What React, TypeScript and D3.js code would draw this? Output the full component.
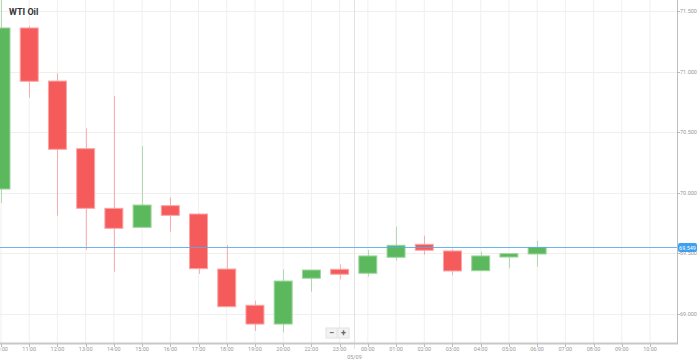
import React, { useEffect, useRef } from 'react';
import * as d3 from 'd3';

// hourly slots on the x axis (21:00 is missing in the source feed)
const slotLabels = [
  '10:00', '11:00', '12:00', '13:00', '14:00', '15:00', '16:00', '17:00', '18:00', '19:00',
  '20:00', '22:00', '23:00', '00:00', '01:00', '02:00', '03:00', '04:00', '05:00', '06:00',
  '07:00', '08:00', '09:00', '10:00'
];

// OHLC per candle
const opens = [70.031, 71.36, 70.922, 70.364, 69.872, 69.715, 69.894, 69.825, 69.371, 69.072,
  68.917, 69.295, 69.369, 69.336, 69.468, 69.575, 69.52, 69.357, 69.47, 69.495];
const highs = [71.6, 71.376, 70.986, 70.532, 70.799, 70.386, 69.963, 69.83, 69.569, 69.11,
  69.369, 69.363, 69.41, 69.528, 69.72, 69.646, 69.533, 69.514, 69.5, 69.605];
const lows = [69.916, 70.785, 69.811, 69.528, 69.349, 69.715, 69.679, 69.33, 69.06, 68.86,
  68.849, 69.184, 69.286, 69.308, 69.44, 69.489, 69.32, 69.357, 69.377, 69.39];
const closes = [71.36, 70.92, 70.359, 69.872, 69.707, 69.899, 69.814, 69.374, 69.06, 68.917,
  69.272, 69.363, 69.328, 69.479, 69.567, 69.526, 69.355, 69.479, 69.498, 69.55];

const yTicks = [69.0, 69.5, 70.0, 70.5, 71.0, 71.5];
const lastPrice = 69.549;
const dayBreakLabel = '05/09';
const title = 'WTI Oil';

const W = 698;
const H = 362;
const RED = '#f65b5b';
const GREEN = '#5cb85c';

const App: React.FC = () => {
  const svgRef = useRef<SVGSVGElement>(null);

  useEffect(() => {
    if (!svgRef.current) return;
    const svg = d3.select(svgRef.current);
    svg.selectAll('*').remove();

    const plotRight = 677;
    const plotBottom = 343;

    const x = d3.scaleLinear().domain([0, slotLabels.length - 1]).range([1, 650]);
    const y = d3.scaleLinear().domain([69.0, 71.5]).range([314, 11]);
    const bodyW = 18;
    const font = 'Roboto, "Noto Sans", sans-serif';

    svg.append('rect').attr('width', W).attr('height', H).attr('fill', '#fff');

    const plot = svg.append('g');
    plot.append('clipPath').attr('id', 'clip')
      .append('rect').attr('x', 0).attr('y', 0).attr('width', plotRight).attr('height', plotBottom);

    // grid
    plot.selectAll('.vgrid')
      .data(slotLabels.map((_, i) => i))
      .enter().append('line')
      .attr('x1', d => x(d)).attr('x2', d => x(d))
      .attr('y1', 0).attr('y2', plotBottom)
      .attr('stroke', '#f0f0f0').attr('stroke-width', 1);

    plot.selectAll('.hgrid')
      .data(yTicks)
      .enter().append('line')
      .attr('x1', 0).attr('x2', plotRight)
      .attr('y1', d => Math.round(y(d)) + 0.5).attr('y2', d => Math.round(y(d)) + 0.5)
      .attr('stroke', '#efefef').attr('stroke-width', 1);

    // day separator between 23:00 and 00:00
    const breakX = Math.round((x(12) + x(13)) / 2) + 0.5;
    plot.append('line')
      .attr('x1', breakX).attr('x2', breakX).attr('y1', 0).attr('y2', plotBottom + 6)
      .attr('stroke', '#e2e2e2').attr('stroke-width', 1);

    const candles = opens.map((o, i) => ({ i, o, h: highs[i], l: lows[i], c: closes[i] }));
    const g = plot.append('g').attr('clip-path', 'url(#clip)');

    g.selectAll('.wick')
      .data(candles)
      .enter().append('line')
      .attr('x1', d => Math.round(x(d.i)) + 0.5).attr('x2', d => Math.round(x(d.i)) + 0.5)
      .attr('y1', d => y(d.h)).attr('y2', d => y(d.l))
      .attr('stroke', d => (d.c >= d.o ? GREEN : RED))
      .attr('stroke-opacity', 0.45)
      .attr('stroke-width', 1);

    g.selectAll('.body')
      .data(candles)
      .enter().append('rect')
      .attr('x', d => x(d.i) - bodyW / 2)
      .attr('y', d => y(Math.max(d.o, d.c)))
      .attr('width', bodyW)
      .attr('height', d => Math.max(1, Math.abs(y(d.o) - y(d.c))))
      .attr('fill', d => (d.c >= d.o ? GREEN : RED))
      .attr('stroke', d => (d.c >= d.o ? '#9fd69f' : '#fba5a5'))
      .attr('stroke-width', 1);

    // last price line
    const py = Math.round(y(lastPrice)) + 0.5;
    plot.append('line')
      .attr('x1', 0).attr('x2', plotRight).attr('y1', py).attr('y2', py)
      .attr('stroke', '#52a8f2').attr('stroke-opacity', 0.85).attr('stroke-width', 1);

    // x axis line
    svg.append('line')
      .attr('x1', 0).attr('x2', plotRight + 1).attr('y1', plotBottom + 0.5).attr('y2', plotBottom + 0.5)
      .attr('stroke', '#c8c8c8').attr('stroke-width', 2);

    // right axis line
    svg.append('line')
      .attr('x1', plotRight + 0.5).attr('x2', plotRight + 0.5).attr('y1', 0).attr('y2', plotBottom + 1)
      .attr('stroke', '#bdbdbd').attr('stroke-width', 1);

    // x axis ticks & labels
    const xt = svg.append('g');
    xt.selectAll('line')
      .data(slotLabels.map((_, i) => i))
      .enter().append('line')
      .attr('x1', d => Math.round(x(d)) + 0.5).attr('x2', d => Math.round(x(d)) + 0.5)
      .attr('y1', plotBottom + 1).attr('y2', plotBottom + 4)
      .attr('stroke', '#bbb');
    xt.selectAll('text')
      .data(slotLabels.map((s, i) => ({ s, i })))
      .enter().append('text')
      .attr('x', d => x(d.i))
      .attr('y', 351)
      .attr('text-anchor', 'middle')
      .style('font-family', font)
      .style('font-size', '5.5px')
      .style('fill', '#999')
      .text(d => d.s);

    svg.append('text')
      .attr('x', breakX).attr('y', 358.5)
      .attr('text-anchor', 'middle')
      .style('font-family', font).style('font-size', '5.5px').style('fill', '#999')
      .text(dayBreakLabel);

    // y axis ticks & labels
    const yt = svg.append('g');
    yt.selectAll('line')
      .data(yTicks)
      .enter().append('line')
      .attr('x1', plotRight).attr('x2', plotRight + 3)
      .attr('y1', d => Math.round(y(d)) + 0.5).attr('y2', d => Math.round(y(d)) + 0.5)
      .attr('stroke', '#bbb');
    yt.selectAll('text')
      .data(yTicks)
      .enter().append('text')
      .attr('x', 680)
      .attr('y', d => y(d) + 2)
      .style('font-family', font)
      .style('font-size', '5.5px')
      .style('fill', '#999')
      .text(d => d.toFixed(3));

    // last price tag
    svg.append('rect')
      .attr('x', 678).attr('y', py - 4.5).attr('width', 19).attr('height', 9).attr('rx', 2)
      .attr('fill', '#3ea0f0');
    svg.append('text')
      .attr('x', 687.5).attr('y', py + 2)
      .attr('text-anchor', 'middle')
      .style('font-family', font).style('font-size', '5.5px').style('fill', '#fff')
      .text(lastPrice.toFixed(3));

    // title
    svg.append('text')
      .attr('x', 9).attr('y', 15)
      .style('font-family', font)
      .style('font-size', '9px')
      .style('font-weight', 'bold')
      .style('fill', '#333')
      .text(title);

    // zoom buttons
    const zb = svg.append('g').attr('transform', 'translate(326,328)');
    ['−', '+'].forEach((s, i) => {
      zb.append('rect')
        .attr('x', i * 12).attr('y', 0).attr('width', 11).attr('height', 10)
        .attr('fill', '#f2f2f2').attr('stroke', '#e2e2e2');
      zb.append('text')
        .attr('x', i * 12 + 5.5).attr('y', 8)
        .attr('text-anchor', 'middle')
        .style('font-family', font).style('font-size', '9px').style('font-weight', 'bold')
        .style('fill', '#666')
        .text(s);
    });
  }, []);

  return (
    <svg
      ref={svgRef}
      width={W}
      height={H}
      style={{ position: 'absolute', left: 0, top: 0, display: 'block' }}
    />
  );
};

export default App;
